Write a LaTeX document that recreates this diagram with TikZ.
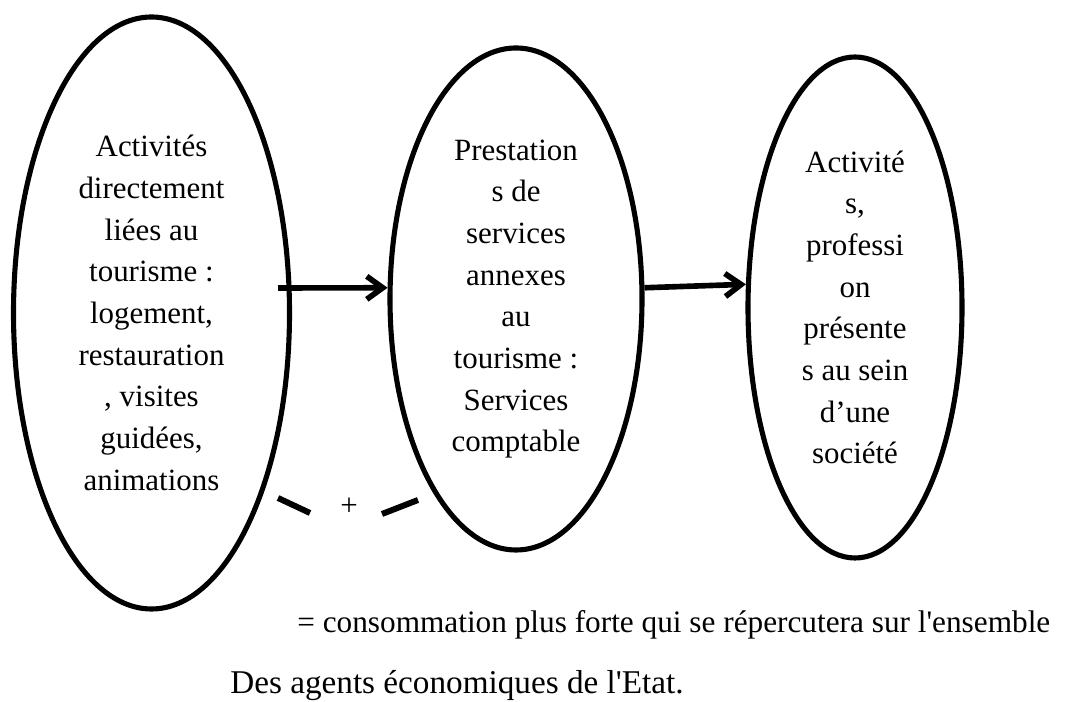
\documentclass[tikz,border=0pt]{standalone}
\usepackage{fontspec}
\setmainfont{Liberation Serif}
\usepackage{tikz}
\usetikzlibrary{positioning}
\usetikzlibrary{shapes.geometric}
\usetikzlibrary{arrows.meta}

\begin{document}
\begin{tikzpicture}[
  font=\fontsize{17.6}{23.7}\selectfont,
  bubble/.style={ellipse, draw, line width=2.9pt, align=center, inner sep=0pt},
  flow/.style={-{Straight Barb[length=0.32cm, width=0.46cm]}, line width=3.2pt},
  stroke/.style={line width=3.4pt},
  note/.style={anchor=base west, inner sep=0pt}
]
\useasboundingbox (0,0) rectangle (21.34,14.04);

% The three groups of activities
\node[bubble, minimum width=5.52cm, minimum height=11.84cm] (direct) at (3.03,7.78) {Activités\\directement\\liées au\\tourisme :\\logement,\\restauration\\, visites\\guidées,\\animations};
\node[bubble, minimum width=5.04cm, minimum height=10.04cm] (annex) at (10.32,8.06) {Prestation\\s de\\services\\annexes\\au\\tourisme :\\Services\\comptable};
\node[bubble, minimum width=4.28cm, minimum height=10.02cm] (society) at (17.10,7.89) {Activité\\s,\\professi\\on\\présente\\s au sein\\d’une\\société};

% Spill-over from one group to the next
\coordinate (start) at (5.56,8.28);
\draw[flow] (start) -- (annex.175);
\draw[flow] (annex.5) -- (society.168);

% The "+" between the first two groups
\node (plus) at (6.98,3.90) {+};
\coordinate (dashA) at (5.56,4.08);
\coordinate (dashB) at (6.20,3.78);
\coordinate (dashC) at (7.64,3.76);
\coordinate (dashD) at (8.36,4.04);
\draw[stroke] (dashA) -- (dashB);
\draw[stroke] (dashC) -- (dashD);

% Conclusion below the groups
\node[note, font=\fontsize{17.8}{21}\selectfont] (result) at (5.94,1.38) {= consommation plus forte qui se répercutera sur l\textquotesingle ensemble};
\node[note, font=\fontsize{18.9}{22}\selectfont] (agents) at (4.60,0.17) {Des agents économiques de l\textquotesingle Etat.};

\end{tikzpicture}
\end{document}
